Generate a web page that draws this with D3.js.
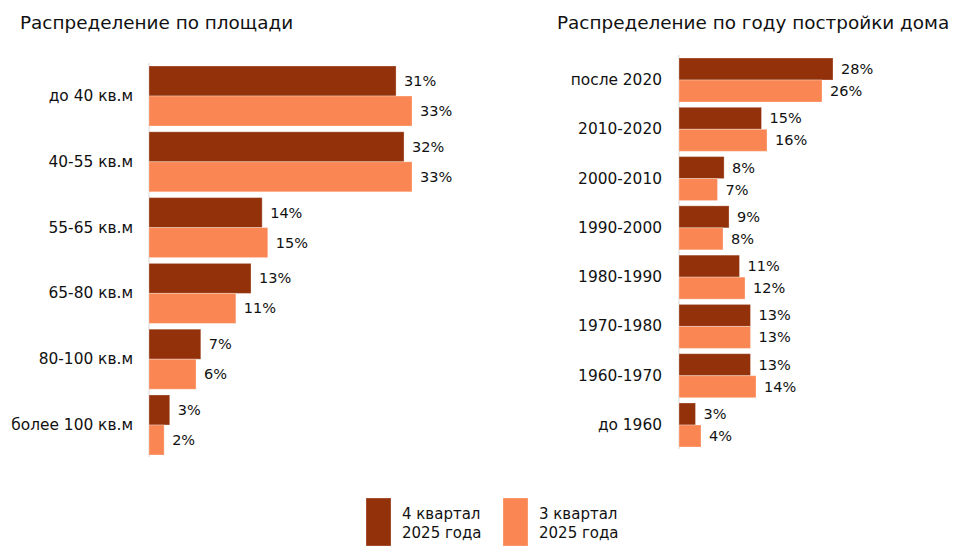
<!DOCTYPE html>
<html lang="ru">
<head>
<meta charset="utf-8">
<title>Распределение</title>
<style>
body {
  margin: 0;
  background: #fff;
  font-family: "DejaVu Sans", sans-serif;
  color: #111;
}
svg text { fill: #111; }
</style>
<script src="https://d3js.org/d3.v7.min.js"></script>
</head>
<body>
<svg id="chart"></svg>
<script>
// ---- data ----
var series = ['q4', 'q3'];
var seriesNames = [['4 квартал', '2025 года'], ['3 квартал', '2025 года']];
var colors = ['#93310a', '#f98653'];

var areaCats = ['до 40 кв.м', '40-55 кв.м', '55-65 кв.м', '65-80 кв.м', '80-100 кв.м', 'более 100 кв.м'];
var areaQ4 = [31, 32, 14.2, 12.8, 6.5, 2.6];
var areaQ3 = [33, 33, 14.9, 10.9, 5.9, 1.9];

var yearCats = ['после 2020', '2010-2020', '2000-2010', '1990-2000', '1980-1990', '1970-1980', '1960-1970', 'до 1960'];
var yearQ4 = [28, 15, 8.2, 9.1, 11, 13, 13, 3];
var yearQ3 = [26, 16, 7, 8, 12, 13, 14, 4];

var W = 957, H = 556;
var svg = d3.select('#chart').attr('width', W).attr('height', H);

function panel(opts) {
  var g = svg.append('g');

  g.append('text')
    .attr('x', opts.titleX)
    .attr('y', 29)
    .style('font-size', '18.4px')
    .text(opts.title);

  var y = d3.scaleBand()
    .domain(opts.cats)
    .range(opts.yRange)
    .paddingInner(opts.padInner)
    .paddingOuter(0);

  var yInner = d3.scaleBand()
    .domain(series)
    .range([0, y.bandwidth()]);

  var x = d3.scaleLinear()
    .domain([0, opts.max])
    .range([opts.x0, opts.x0 + opts.maxPx]);

  var rows = opts.cats.map(function(c, i) {
    return { cat: c, values: [opts.q4[i], opts.q3[i]] };
  });

  // axis line
  g.append('line')
    .attr('x1', x(0)).attr('x2', x(0))
    .attr('y1', opts.yRange[0] - 3).attr('y2', opts.yRange[1] + 2)
    .attr('stroke', '#d9d9d9')
    .attr('stroke-width', 1);

  // category labels
  g.selectAll('.cat')
    .data(rows)
    .enter().append('text')
    .attr('class', 'cat')
    .attr('x', opts.labelX)
    .attr('y', function(d) { return y(d.cat) + y.bandwidth() / 2; })
    .attr('text-anchor', 'end')
    .attr('dominant-baseline', 'central')
    .style('font-size', '15.4px')
    .text(function(d) { return d.cat; });

  var grp = g.selectAll('.grp')
    .data(rows)
    .enter().append('g')
    .attr('class', 'grp')
    .attr('transform', function(d) { return 'translate(0,' + y(d.cat) + ')'; });

  var cells = grp.selectAll('.cell')
    .data(function(d) {
      return d.values.map(function(v, i) { return { s: series[i], v: v, i: i }; });
    })
    .enter();

  cells.append('rect')
    .attr('x', x(0))
    .attr('y', function(d) { return yInner(d.s); })
    .attr('width', function(d) { return x(d.v) - x(0); })
    .attr('height', yInner.bandwidth())
    .attr('fill', function(d) { return colors[d.i]; })
    .attr('stroke', 'rgba(255,255,255,0.3)')
    .attr('stroke-width', 1);

  cells.append('text')
    .attr('x', function(d) { return x(d.v) + 8; })
    .attr('y', function(d) { return yInner(d.s) + yInner.bandwidth() / 2; })
    .attr('dominant-baseline', 'central')
    .style('font-size', '14.5px')
    .text(function(d) { return Math.round(d.v) + '%'; });
}

panel({
  title: 'Распределение по площади',
  titleX: 20,
  cats: areaCats, q4: areaQ4, q3: areaQ3,
  yRange: [66, 455], padInner: 0.088,
  x0: 149, max: 33, maxPx: 263,
  labelX: 133
});

panel({
  title: 'Распределение по году постройки дома',
  titleX: 557,
  cats: yearCats, q4: yearQ4, q3: yearQ3,
  yRange: [58, 447], padInner: 0.107,
  x0: 679, max: 28, maxPx: 154,
  labelX: 662
});

// legend
var legend = svg.append('g');
var legX = [366, 503];
series.forEach(function(s, i) {
  legend.append('rect')
    .attr('x', legX[i]).attr('y', 498)
    .attr('width', 25).attr('height', 48)
    .attr('fill', colors[i])
    .attr('stroke', 'rgba(255,255,255,0.3)');
  var t = legend.append('text')
    .attr('x', legX[i] + 36)
    .attr('y', 519)
    .style('font-size', '15px');
  seriesNames[i].forEach(function(line, k) {
    t.append('tspan').attr('x', legX[i] + 36).attr('dy', k === 0 ? 0 : 19).text(line);
  });
});
</script>
</body>
</html>
